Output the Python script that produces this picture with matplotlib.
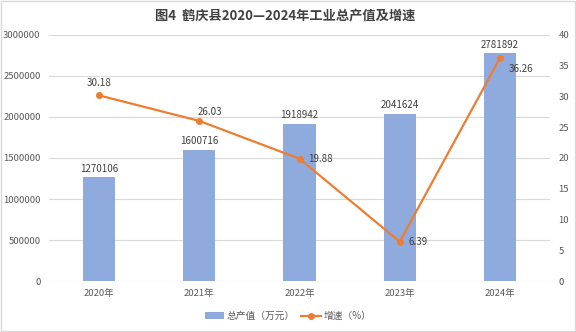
import matplotlib
matplotlib.use("Agg")
import matplotlib.pyplot as plt
from matplotlib.lines import Line2D
from matplotlib.patches import Patch
import numpy as np

plt.rcParams['font.family'] = ['Noto Sans CJK SC', 'DejaVu Sans']

years = ["2020年", "2021年", "2022年", "2023年", "2024年"]
output_value = [1270106, 1600716, 1918942, 2041624, 2781892]
growth = [30.18, 26.03, 19.88, 6.39, 36.26]

bar_color = "#8FAADC"
line_color = "#ED7D31"
text_color = "#595959"
grid_color = "#D9D9D9"

fig = plt.figure(figsize=(5.76, 3.32), dpi=100)
ax = fig.add_axes([0.085, 0.1536, 0.87, 0.741])
ax2 = ax.twinx()

x = np.arange(len(years))
ax.bar(x, output_value, width=0.32, color=bar_color, zorder=2)
for xi, v in zip(x, output_value):
    ax.text(xi, v + 40000, f"{v}", ha="center", va="bottom", fontsize=7, color="#404040")

ax.set_xlim(-0.5, len(years) - 0.5)
ax.set_ylim(0, 3000000)
ax.set_yticks(np.arange(0, 3000001, 500000))
ax.yaxis.set_major_formatter(matplotlib.ticker.FuncFormatter(lambda v, p: f"{int(v)}"))
ax.set_xticks(x)
ax.set_xticklabels(years)
ax.grid(axis="y", color=grid_color, linewidth=0.8, zorder=0)
ax.set_axisbelow(True)
for s in ax.spines.values():
    s.set_visible(False)
for s in ax2.spines.values():
    s.set_visible(False)
ax.tick_params(axis="both", length=0, labelsize=6.8, labelcolor=text_color, pad=6)

ax2.plot(x, growth, color=line_color, linewidth=1.6, marker="o", markersize=4, zorder=3)
ax2.set_ylim(0, 40)
ax2.set_yticks(np.arange(0, 41, 5))
ax2.tick_params(axis="y", length=0, labelsize=6.8, labelcolor=text_color, pad=6)

offsets = [(0, 5, "center", "bottom"), (8, 3, "center", "bottom"),
           (6, 0, "left", "center"), (6, 0, "left", "center"),
           (6, -4, "left", "top")]
for xi, g, (dx, dy, ha, va) in zip(x, growth, offsets):
    ax2.annotate(f"{g:.2f}", (xi, g), xytext=(dx, dy), textcoords="offset points",
                 ha=ha, va=va, fontsize=7, color="#404040")

fig.text(0.495, 0.955, "图4  鹤庆县2020—2024年工业总产值及增速", ha="center", va="center",
         fontsize=9.5, fontweight="bold", color="#404040")

handles = [Patch(facecolor=bar_color, edgecolor="none"),
           Line2D([0], [0], color=line_color, linewidth=1.6, marker="o", markersize=4)]
fig.legend(handles, ["总产值（万元）", "增速（%）"], loc="center", bbox_to_anchor=(0.5, 0.048),
           ncol=2, frameon=False, fontsize=7, labelcolor=text_color,
           handlelength=2.0, handletextpad=0.3, columnspacing=0.6)

border = plt.Rectangle((0.001, 0.004), 0.997, 0.994, transform=fig.transFigure,
                       fill=False, edgecolor="#D9D9D9", linewidth=1)
fig.add_artist(border)

fig.savefig("out.png", dpi=100)
